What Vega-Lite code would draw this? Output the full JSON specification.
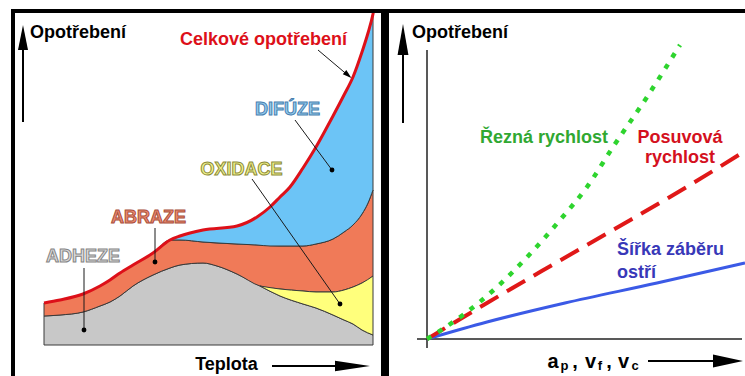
{
  "$schema": "https://vega.github.io/schema/vega-lite/v6.json",
  "background": "white",
  "padding": {"left": 11, "top": 9, "right": 0, "bottom": 0},
  "spacing": 0,
  "config": {
    "view": {"stroke": null},
    "text": {"font": "Liberation Sans", "fontWeight": "bold", "fontSize": 18}
  },
  "datasets": {
    "bands": [
      {"s":"ADHEZE","x":0,"y":29,"lo":0},{"s":"ADHEZE","x":16,"y":30,"lo":0},{"s":"ADHEZE","x":39,"y":33,"lo":0},{"s":"ADHEZE","x":56,"y":39,"lo":0},{"s":"ADHEZE","x":66,"y":43,"lo":0},{"s":"ADHEZE","x":76,"y":49,"lo":0},{"s":"ADHEZE","x":89,"y":59,"lo":0},{"s":"ADHEZE","x":109,"y":70,"lo":0},{"s":"ADHEZE","x":126,"y":77,"lo":0},{"s":"ADHEZE","x":136,"y":80,"lo":0},{"s":"ADHEZE","x":159,"y":82,"lo":0},{"s":"ADHEZE","x":173,"y":79,"lo":0},{"s":"ADHEZE","x":193,"y":71,"lo":0},{"s":"ADHEZE","x":216,"y":59,"lo":0},{"s":"ADHEZE","x":236,"y":49,"lo":0},{"s":"ADHEZE","x":259,"y":41,"lo":0},{"s":"ADHEZE","x":272,"y":37,"lo":0},{"s":"ADHEZE","x":289,"y":30,"lo":0},{"s":"ADHEZE","x":300,"y":25,"lo":0},{"s":"ADHEZE","x":309,"y":21,"lo":0},{"s":"ADHEZE","x":318,"y":15,"lo":0},{"s":"ADHEZE","x":329,"y":10,"lo":0},
      {"s":"ABRAZE","x":0,"y":42,"lo":29},{"s":"ABRAZE","x":16,"y":45,"lo":30},{"s":"ABRAZE","x":39,"y":51,"lo":33},{"s":"ABRAZE","x":56,"y":59,"lo":39},{"s":"ABRAZE","x":66,"y":65,"lo":43},{"s":"ABRAZE","x":76,"y":72,"lo":49},{"s":"ABRAZE","x":89,"y":80,"lo":59},{"s":"ABRAZE","x":109,"y":92,"lo":70},{"s":"ABRAZE","x":126,"y":105,"lo":77},{"s":"ABRAZE","x":136,"y":105,"lo":80},{"s":"ABRAZE","x":159,"y":103,"lo":82},{"s":"ABRAZE","x":173,"y":102,"lo":79},{"s":"ABRAZE","x":193,"y":101,"lo":71},{"s":"ABRAZE","x":216,"y":100,"lo":59},{"s":"ABRAZE","x":236,"y":99,"lo":56},{"s":"ABRAZE","x":259,"y":99,"lo":54},{"s":"ABRAZE","x":272,"y":101,"lo":53},{"s":"ABRAZE","x":289,"y":106,"lo":53},{"s":"ABRAZE","x":300,"y":113,"lo":55},{"s":"ABRAZE","x":309,"y":120,"lo":58},{"s":"ABRAZE","x":318,"y":131,"lo":62},{"s":"ABRAZE","x":324,"y":142,"lo":65},{"s":"ABRAZE","x":329,"y":155,"lo":69},
      {"s":"OXIDACE","x":216,"y":59,"lo":59},{"s":"OXIDACE","x":236,"y":56,"lo":49},{"s":"OXIDACE","x":259,"y":54,"lo":41},{"s":"OXIDACE","x":272,"y":53,"lo":37},{"s":"OXIDACE","x":289,"y":53,"lo":30},{"s":"OXIDACE","x":300,"y":55,"lo":25},{"s":"OXIDACE","x":309,"y":58,"lo":21},{"s":"OXIDACE","x":318,"y":62,"lo":15},{"s":"OXIDACE","x":329,"y":69,"lo":10},
      {"s":"DIFÚZE","x":126,"y":105,"lo":105},{"s":"DIFÚZE","x":136,"y":109,"lo":105},{"s":"DIFÚZE","x":159,"y":115,"lo":103},{"s":"DIFÚZE","x":193,"y":119,"lo":101},{"s":"DIFÚZE","x":213,"y":128,"lo":100},{"s":"DIFÚZE","x":226,"y":138,"lo":99},{"s":"DIFÚZE","x":236,"y":148,"lo":99},{"s":"DIFÚZE","x":246,"y":158,"lo":99},{"s":"DIFÚZE","x":259,"y":177,"lo":99},{"s":"DIFÚZE","x":272,"y":198,"lo":101},{"s":"DIFÚZE","x":289,"y":229,"lo":106},{"s":"DIFÚZE","x":300,"y":250,"lo":113},{"s":"DIFÚZE","x":309,"y":268,"lo":120},{"s":"DIFÚZE","x":318,"y":293,"lo":131},{"s":"DIFÚZE","x":324,"y":312,"lo":142},{"s":"DIFÚZE","x":329,"y":331,"lo":155}
    ],
    "total": [
      {"x":0,"y":42},{"x":16,"y":45},{"x":39,"y":51},{"x":56,"y":59},{"x":66,"y":65},{"x":76,"y":72},{"x":89,"y":80},{"x":109,"y":92},{"x":126,"y":105},{"x":136,"y":109},{"x":159,"y":115},{"x":193,"y":119},{"x":213,"y":128},{"x":226,"y":138},{"x":236,"y":148},{"x":246,"y":158},{"x":259,"y":177},{"x":272,"y":198},{"x":289,"y":229},{"x":300,"y":250},{"x":309,"y":268},{"x":318,"y":293},{"x":324,"y":312},{"x":329,"y":331},{"x":330,"y":336}
    ],
    "callouts": [
      {"x":274,"y":295,"xe":306,"ye":268},
      {"x":251,"y":225,"xe":288,"ye":175},
      {"x":208,"y":166,"xe":296,"ye":41},
      {"x":111,"y":117,"xe":111,"ye":83},
      {"x":40,"y":77,"xe":40,"ye":15}
    ],
    "dots": [
      {"x":288,"y":175},{"x":296,"y":41},{"x":111,"y":83},{"x":40,"y":15}
    ],
    "rlines": [
      {"s":"vc","x":0,"y":0},{"s":"vc","x":36,"y":24},{"s":"vc","x":70,"y":52},{"s":"vc","x":103,"y":85},{"s":"vc","x":133,"y":119},{"s":"vc","x":160,"y":152},{"s":"vc","x":186,"y":192},{"s":"vc","x":220,"y":242},{"s":"vc","x":253,"y":294},
      {"s":"vf","x":0,"y":0},{"s":"vf","x":60,"y":36},{"s":"vf","x":120,"y":71},{"s":"vf","x":186,"y":109},{"s":"vf","x":263,"y":154},{"s":"vf","x":318,"y":188},
      {"s":"ap","x":0,"y":0},{"s":"ap","x":60,"y":17},{"s":"ap","x":138,"y":36},{"s":"ap","x":230,"y":56},{"s":"ap","x":318,"y":76}
    ]
  },
  "hconcat": [
    {
      "width": 374,
      "height": 367,
      "encoding": {
        "x": {"field": "x", "type": "quantitative", "scale": {"domain": [-33, 341], "nice": false, "zero": false}, "axis": null},
        "y": {"field": "y", "type": "quantitative", "scale": {"domain": [-31, 336], "nice": false, "zero": false}, "axis": null}
      },
      "layer": [
        {
          "data": {"name": "bands"},
          "mark": {"type": "area", "interpolate": "monotone", "stroke": "#3a3a3a", "strokeWidth": 1, "opacity": 1, "clip": true},
          "encoding": {
            "y2": {"field": "lo"},
            "color": {"field": "s", "type": "nominal", "legend": null,
              "scale": {"domain": ["ADHEZE", "ABRAZE", "OXIDACE", "DIFÚZE"], "range": ["#c8c8c8", "#f07a58", "#ffff7c", "#6cc4f6"]}}
          }
        },
        {
          "data": {"name": "total"},
          "mark": {"type": "line", "interpolate": "monotone", "color": "#dd1019", "strokeWidth": 3, "clip": true},
          "encoding": {}
        },
        {
          "data": {"name": "callouts"},
          "mark": {"type": "rule", "color": "#1a1a1a", "strokeWidth": 1, "clip": true},
          "encoding": {"x2": {"field": "xe"}, "y2": {"field": "ye"}}
        },
        {
          "data": {"name": "dots"},
          "mark": {"type": "point", "shape": "circle", "filled": true, "color": "black", "size": 24, "opacity": 1, "clip": true},
          "encoding": {}
        },
        {
          "data": {"values": [{"x": 304, "y": 270}]},
          "mark": {"type": "point", "shape": "M-1,-0.6L1,0L-1,0.6Z", "angle": 40, "filled": true, "color": "black", "size": 81, "opacity": 1, "clip": true},
          "encoding": {}
        },
        {
          "data": {"values": [{"x": -21, "y": 223, "xe": -21, "ye": 296}, {"x": 228, "y": -21, "xe": 292, "ye": -21}]},
          "mark": {"type": "rule", "color": "black", "strokeWidth": 2, "clip": true},
          "encoding": {"x2": {"field": "xe"}, "y2": {"field": "ye"}}
        },
        {
          "data": {"values": [{"x": -21, "y": 307.5}]},
          "mark": {"type": "point", "shape": "M-0.4,1L0,-1L0.4,1Z", "filled": true, "color": "black", "size": 625, "opacity": 1, "clip": true},
          "encoding": {}
        },
        {
          "data": {"values": [{"x": 308.5, "y": -21}]},
          "mark": {"type": "point", "shape": "M-1,-0.3L1,0L-1,0.3Z", "filled": true, "color": "black", "size": 1225, "opacity": 1, "clip": true},
          "encoding": {}
        },
        {
          "data": {"values": [{"x": -33, "y": -31, "xe": -33, "ye": 336}, {"x": -33, "y": 336, "xe": 341, "ye": 336}, {"x": 341, "y": -31, "xe": 341, "ye": 336}]},
          "mark": {"type": "rule", "color": "black", "strokeWidth": 8, "clip": true},
          "encoding": {"x2": {"field": "xe"}, "y2": {"field": "ye"}}
        },
        {
          "data": {"values": [{"x": -14, "y": 307.5, "t": "Opotřebení"}]},
          "mark": {"type": "text", "align": "left", "baseline": "alphabetic", "color": "black", "clip": true},
          "encoding": {"text": {"field": "t"}}
        },
        {
          "data": {"values": [{"x": 182.5, "y": -25, "t": "Teplota"}]},
          "mark": {"type": "text", "align": "center", "baseline": "alphabetic", "color": "black", "clip": true},
          "encoding": {"text": {"field": "t"}}
        },
        {
          "data": {"values": [{"x": 219.5, "y": 300, "t": "Celkové opotřebení"}]},
          "mark": {"type": "text", "align": "center", "baseline": "alphabetic", "color": "#dd1019", "clip": true},
          "encoding": {"text": {"field": "t"}}
        },
        {
          "data": {"values": [{"x": 243.5, "y": 230, "t": "DIFÚZE"}]},
          "mark": {"type": "text", "align": "center", "baseline": "alphabetic", "fill": "#93cdee", "stroke": "#4a80b0", "strokeWidth": 1, "clip": true},
          "encoding": {"text": {"field": "t"}}
        },
        {
          "data": {"values": [{"x": 197.5, "y": 170, "t": "OXIDACE"}]},
          "mark": {"type": "text", "align": "center", "baseline": "alphabetic", "fill": "#f2f28a", "stroke": "#8c8c3a", "strokeWidth": 1, "clip": true},
          "encoding": {"text": {"field": "t"}}
        },
        {
          "data": {"values": [{"x": 104.5, "y": 122, "t": "ABRAZE"}]},
          "mark": {"type": "text", "align": "center", "baseline": "alphabetic", "fill": "#ee8a70", "stroke": "#a8503c", "strokeWidth": 1, "clip": true},
          "encoding": {"text": {"field": "t"}}
        },
        {
          "data": {"values": [{"x": 39, "y": 83, "t": "ADHEZE"}]},
          "mark": {"type": "text", "align": "center", "baseline": "alphabetic", "fill": "#dcdcdc", "stroke": "#858585", "strokeWidth": 1, "clip": true},
          "encoding": {"text": {"field": "t"}}
        }
      ]
    },
    {
      "width": 360,
      "height": 367,
      "encoding": {
        "x": {"field": "x", "type": "quantitative", "scale": {"domain": [-42, 318], "nice": false, "zero": false}, "axis": null},
        "y": {"field": "y", "type": "quantitative", "scale": {"domain": [-37, 330], "nice": false, "zero": false}, "axis": null}
      },
      "layer": [
        {
          "data": {"values": [{"x": 0, "y": -9, "xe": 0, "ye": 289}, {"x": -10, "y": 0, "xe": 315, "ye": 0}]},
          "mark": {"type": "rule", "color": "#222222", "strokeWidth": 1.5, "clip": true},
          "encoding": {"x2": {"field": "xe"}, "y2": {"field": "ye"}}
        },
        {
          "data": {"name": "rlines"},
          "transform": [{"filter": "datum.s === 'ap'"}],
          "mark": {"type": "line", "interpolate": "monotone", "color": "#3b5ae6", "strokeWidth": 3, "clip": true},
          "encoding": {}
        },
        {
          "data": {"name": "rlines"},
          "transform": [{"filter": "datum.s === 'vf'"}],
          "mark": {"type": "line", "interpolate": "monotone", "color": "#e01818", "strokeWidth": 4, "strokeDash": [21, 10], "clip": true},
          "encoding": {}
        },
        {
          "data": {"name": "rlines"},
          "transform": [{"filter": "datum.s === 'vc'"}],
          "mark": {"type": "line", "interpolate": "monotone", "color": "#2ed42e", "strokeWidth": 4.5, "strokeDash": [5, 8], "clip": true},
          "encoding": {}
        },
        {
          "data": {"values": [{"x": -24, "y": 216, "xe": -24, "ye": 290}, {"x": 221, "y": -22, "xe": 290, "ye": -22}]},
          "mark": {"type": "rule", "color": "black", "strokeWidth": 2, "clip": true},
          "encoding": {"x2": {"field": "xe"}, "y2": {"field": "ye"}}
        },
        {
          "data": {"values": [{"x": -24, "y": 299.5}]},
          "mark": {"type": "point", "shape": "M-0.35,1L0,-1L0.35,1Z", "filled": true, "color": "black", "size": 961, "opacity": 1, "clip": true},
          "encoding": {}
        },
        {
          "data": {"values": [{"x": 301, "y": -22}]},
          "mark": {"type": "point", "shape": "M-1,-0.43L1,0L-1,0.43Z", "filled": true, "color": "black", "size": 900, "opacity": 1, "clip": true},
          "encoding": {}
        },
        {
          "data": {"values": [{"x": -42, "y": -37, "xe": -42, "ye": 330}, {"x": -42, "y": 330, "xe": 318, "ye": 330}]},
          "mark": {"type": "rule", "color": "black", "strokeWidth": 8, "clip": true},
          "encoding": {"x2": {"field": "xe"}, "y2": {"field": "ye"}}
        },
        {
          "data": {"values": [{"x": -15, "y": 301, "t": "Opotřebení"}]},
          "mark": {"type": "text", "align": "left", "baseline": "alphabetic", "color": "black", "clip": true},
          "encoding": {"text": {"field": "t"}}
        },
        {
          "data": {"values": [{"x": 117, "y": 196, "t": "Řezná rychlost"}]},
          "mark": {"type": "text", "align": "center", "baseline": "alphabetic", "color": "#30a832", "clip": true},
          "encoding": {"text": {"field": "t"}}
        },
        {
          "data": {"values": [{"x": 253, "y": 196, "t": "Posuvová"}, {"x": 253, "y": 176, "t": "rychlost"}]},
          "mark": {"type": "text", "align": "center", "baseline": "alphabetic", "color": "#d41020", "clip": true},
          "encoding": {"text": {"field": "t"}}
        },
        {
          "data": {"values": [{"x": 190, "y": 84, "t": "Šířka záběru"}, {"x": 190, "y": 61, "t": "ostří"}]},
          "mark": {"type": "text", "align": "left", "baseline": "alphabetic", "color": "#3838b8", "clip": true},
          "encoding": {"text": {"field": "t"}}
        },
        {
          "data": {"values": [{"x": 126, "y": -29, "t": "a"}, {"x": 148, "y": -29, "t": ","}, {"x": 163.5, "y": -29, "t": "v"}, {"x": 182, "y": -29, "t": ","}, {"x": 196.5, "y": -29, "t": "v"}]},
          "mark": {"type": "text", "align": "center", "baseline": "alphabetic", "color": "black", "fontSize": 20, "clip": true},
          "encoding": {"text": {"field": "t"}}
        },
        {
          "data": {"values": [{"x": 137.5, "y": -31, "t": "p"}, {"x": 173, "y": -31, "t": "f"}, {"x": 208, "y": -31, "t": "c"}]},
          "mark": {"type": "text", "align": "center", "baseline": "alphabetic", "color": "black", "fontSize": 13, "clip": true},
          "encoding": {"text": {"field": "t"}}
        }
      ]
    }
  ]
}
